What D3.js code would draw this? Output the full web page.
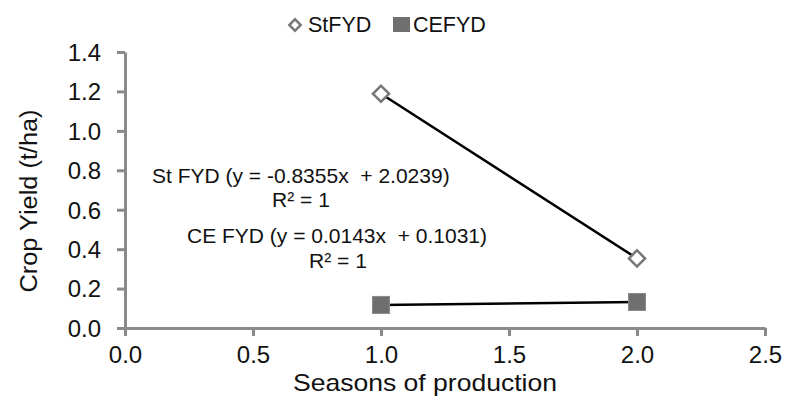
<!DOCTYPE html>
<html>
<head>
<meta charset="utf-8">
<script src="https://cdn.jsdelivr.net/npm/d3@7"></script>
<style>
  body { margin: 0; background: white; }
  svg { font-family: "Liberation Sans", Arial, sans-serif; }
</style>
</head>
<body>
<div id="chart"></div>
<script>
// Data
const seasons = [1, 2];
const stFYD = [1.188, 0.353];
const ceFYD = [0.117, 0.132];
const xTicks = [0, 0.5, 1, 1.5, 2, 2.5];
const yTicks = [0, 0.2, 0.4, 0.6, 0.8, 1.0, 1.2, 1.4];

const width = 785, height = 397;

const svg = d3.select("#chart").append("svg")
    .attr("width", width)
    .attr("height", height);

const xScale = d3.scaleLinear().domain([0, 2.5]).range([125, 765]);
const yScale = d3.scaleLinear().domain([0, 1.4]).range([328, 52]);

const axisColor = "#8a8a8a";

// y axis
const yAxis = svg.append("g")
    .attr("transform", `translate(${xScale(0)},0)`)
    .call(d3.axisLeft(yScale).tickValues(yTicks).tickFormat(d3.format(".1f")).tickSize(8).tickSizeOuter(0));
// x axis
const xAxis = svg.append("g")
    .attr("transform", `translate(0,${yScale(0)})`)
    .call(d3.axisBottom(xScale).tickValues(xTicks).tickFormat(d3.format(".1f")).tickSize(8).tickSizeOuter(0));

[yAxis, xAxis].forEach(function (g) {
    g.select(".domain").attr("stroke", axisColor).attr("stroke-width", 3);
    g.selectAll(".tick line").attr("stroke", axisColor).attr("stroke-width", 3);
    g.selectAll(".tick text").attr("fill", "#111").attr("font-size", 24)
        .attr("font-family", "Liberation Sans, Arial, sans-serif");
});
yAxis.selectAll(".tick text").attr("x", -24).attr("dy", "0.35em");
xAxis.selectAll(".tick text").attr("y", 35).attr("dy", null);

// axis titles
svg.append("text")
    .attr("x", 425).attr("y", 391)
    .attr("text-anchor", "middle")
    .attr("font-size", 24).attr("fill", "#111")
    .attr("textLength", 264).attr("lengthAdjust", "spacingAndGlyphs")
    .text("Seasons of production");

svg.append("text")
    .attr("transform", "translate(37,201) rotate(-90)")
    .attr("text-anchor", "middle")
    .attr("font-size", 23).attr("fill", "#111")
    .attr("textLength", 183).attr("lengthAdjust", "spacingAndGlyphs")
    .text("Crop Yield (t/ha)");

// trend lines
const line = d3.line()
    .x(function (d) { return xScale(d[0]); })
    .y(function (d) { return yScale(d[1]); });

[stFYD, ceFYD].forEach(function (vals) {
    svg.append("path")
        .datum(seasons.map(function (s, i) { return [s, vals[i]]; }))
        .attr("d", line)
        .attr("fill", "none")
        .attr("stroke", "black")
        .attr("stroke-width", 2.5);
});

// markers
const diamond = d3.symbol().type(d3.symbolSquare).size(130);
svg.selectAll(".st")
    .data(seasons.map(function (s, i) { return [s, stFYD[i]]; }))
    .enter().append("path")
    .attr("class", "st")
    .attr("d", diamond)
    .attr("transform", function (d) { return `translate(${xScale(d[0])},${yScale(d[1])}) rotate(45)`; })
    .attr("fill", "white")
    .attr("stroke", "#777")
    .attr("stroke-width", 2.5);

svg.selectAll(".ce")
    .data(seasons.map(function (s, i) { return [s, ceFYD[i]]; }))
    .enter().append("rect")
    .attr("class", "ce")
    .attr("x", function (d) { return xScale(d[0]) - 8.5; })
    .attr("y", function (d) { return yScale(d[1]) - 8.5; })
    .attr("width", 17).attr("height", 17)
    .attr("fill", "#6f6f6f")
    .attr("stroke", "#8a8a8a")
    .attr("stroke-width", 1);

// equations
svg.append("text").attr("x", 152).attr("y", 183)
    .attr("font-size", 21).attr("fill", "#111")
    .attr("xml:space", "preserve")
    .text("St FYD (y = -0.8355x  + 2.0239)");
svg.append("text").attr("x", 301).attr("y", 207)
    .attr("text-anchor", "middle")
    .attr("font-size", 21).attr("fill", "#111")
    .text("R² = 1");
svg.append("text").attr("x", 187).attr("y", 243)
    .attr("font-size", 21).attr("fill", "#111")
    .attr("xml:space", "preserve")
    .text("CE FYD (y = 0.0143x  + 0.1031)");
svg.append("text").attr("x", 338).attr("y", 268)
    .attr("text-anchor", "middle")
    .attr("font-size", 21).attr("fill", "#111")
    .text("R² = 1");

// legend
const legend = svg.append("g");
legend.append("path")
    .attr("d", d3.symbol().type(d3.symbolSquare).size(64))
    .attr("transform", "translate(295,25) rotate(45)")
    .attr("fill", "white").attr("stroke", "#777").attr("stroke-width", 2.5);
legend.append("text").attr("x", 308).attr("y", 32)
    .attr("font-size", 21.5).attr("fill", "#111").text("StFYD");
legend.append("rect")
    .attr("x", 393).attr("y", 17).attr("width", 17).attr("height", 15)
    .attr("fill", "#6f6f6f");
legend.append("text").attr("x", 413).attr("y", 32)
    .attr("font-size", 21.5).attr("fill", "#111").text("CEFYD");
</script>
</body>
</html>
